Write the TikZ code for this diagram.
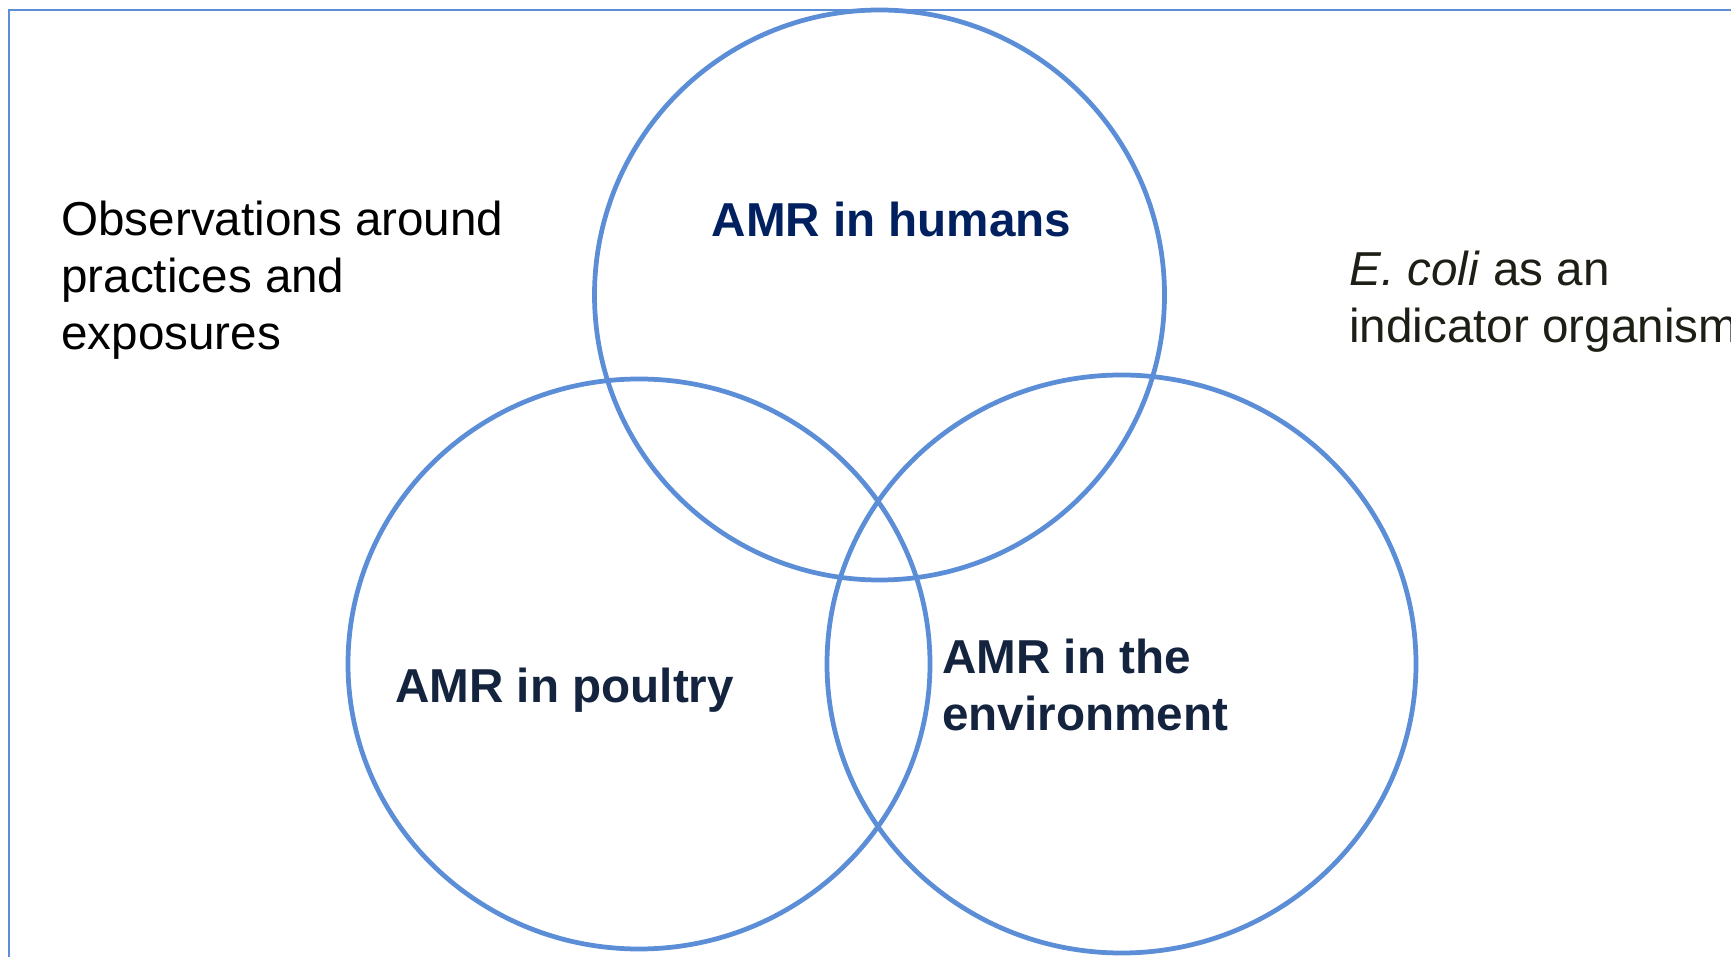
\documentclass[tikz,border=0pt]{standalone}
\usepackage{fontspec}
\setmainfont{Liberation Sans}
\definecolor{vennblue}{HTML}{5B8ED6}
\definecolor{humanblue}{HTML}{002060}
\definecolor{darknavy}{HTML}{14243F}
\definecolor{nearblack}{HTML}{1E1E16}
\begin{document}
\begin{tikzpicture}[x=0.02cm,y=0.02cm,
    ring/.style={draw=vennblue,line width=2.7pt},
    txt/.style={inner sep=0pt,anchor=base west,align=left,
      font=\fontsize{27.1}{32.6}\selectfont},
    boldtxt/.style={txt,font=\fontsize{27.1}{32.6}\selectfont\bfseries}]
  \useasboundingbox (0,0) rectangle (1731,957);
  \draw[vennblue,line width=1.1pt] (1731,947) -- (9,947) -- (9,0);
  % the three sets
  \draw[ring] (879.5,662) circle [radius=285];
  \draw[ring] (639,293) ellipse [x radius=291,y radius=285];
  \draw[ring] (1121.5,293) ellipse [x radius=294.5,y radius=289];
  \node[boldtxt,anchor=base,text=humanblue] (humans) at (891.5,720) {AMR in humans};
  \node[boldtxt,text=darknavy] (poultry) at (395,254) {AMR in poultry};
  \node[boldtxt,text=darknavy] (environment) at (942,226) {AMR in the\\environment};
  % side notes (base = last line)
  \node[txt] (observations) at (61,607) {Observations around\\practices and\\exposures};
  \node[txt,text=nearblack] (ecoli) at (1349,614) {\textit{E. coli} as an\\indicator organism};
\end{tikzpicture}
\end{document}
